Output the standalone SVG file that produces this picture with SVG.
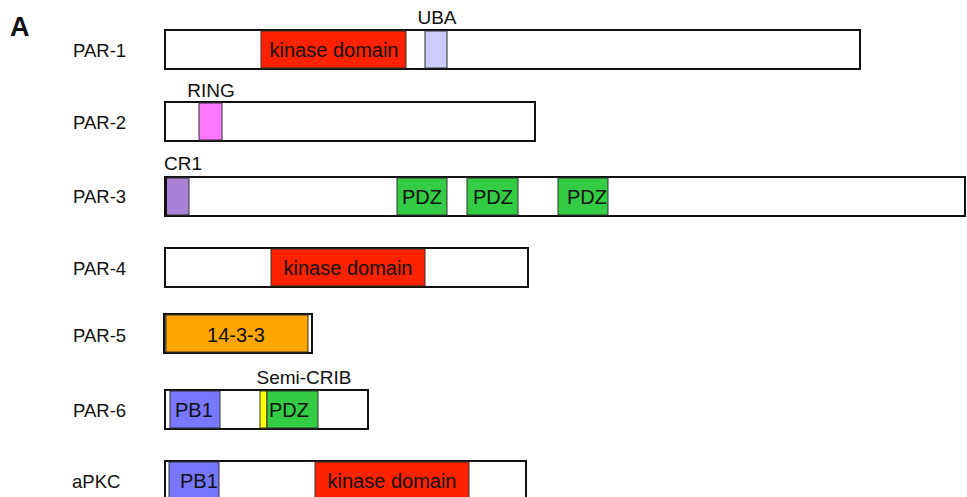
<svg xmlns="http://www.w3.org/2000/svg" width="967" height="497" viewBox="0 0 967 497">
<style>
text{font-family:"Liberation Sans",Arial,sans-serif;font-size:18.5px;fill:#111}
.d{font-size:20px}
.outer{fill:#fff;stroke:#111;stroke-width:2}
.dom{stroke:#333;stroke-width:1}
.kin{fill:#ff2200}
.pdz{fill:#33cc44}
.pb1{fill:#7777ff}
.c{text-anchor:middle}
</style>
<rect width="967" height="497" fill="#fff"/>
<text x="10" y="36" style="font-weight:bold;font-size:27px">A</text>
<g id="par1">
<text x="73" y="57">PAR-1</text>
<rect class="outer" x="165" y="30" width="695" height="39"/>
<rect class="dom kin" x="261" y="31" width="145" height="37"/>
<rect class="dom" fill="#ccccff" x="425" y="31" width="22" height="37"/>
<text class="c d" x="334" y="57">kinase domain</text>
<text class="c" x="437" y="24" style="font-size:19px">UBA</text>
</g>
<g id="par2">
<text x="73" y="129">PAR-2</text>
<rect class="outer" x="165" y="102" width="370" height="39"/>
<rect class="dom" fill="#ff77ff" x="199" y="103" width="23" height="37"/>
<text class="c" x="211" y="97" style="font-size:19px">RING</text>
</g>
<g id="par3">
<text x="73" y="203">PAR-3</text>
<rect class="outer" x="165" y="177" width="800" height="39"/>
<rect class="dom" fill="#aa80d4" x="166" y="178" width="23" height="37"/>
<line x1="165.5" y1="177" x2="165.5" y2="216" stroke="#111" stroke-width="3"/>
<rect class="dom pdz" x="397" y="178" width="50" height="37"/>
<rect class="dom pdz" x="467" y="178" width="51" height="37"/>
<rect class="dom pdz" x="558" y="178" width="50" height="37"/>
<text class="c d" x="422" y="204">PDZ</text>
<text class="c d" x="493" y="204">PDZ</text>
<text class="c d" x="587" y="204">PDZ</text>
<text x="164" y="170" style="font-size:19px">CR1</text>
</g>
<g id="par4">
<text x="73" y="275">PAR-4</text>
<rect class="outer" x="165" y="248" width="363" height="39"/>
<rect class="dom kin" x="271" y="249" width="154" height="37"/>
<text class="c d" x="348" y="275">kinase domain</text>
</g>
<g id="par5">
<text x="73" y="342">PAR-5</text>
<rect class="outer" x="164" y="314" width="148" height="39"/>
<rect class="dom" fill="#ffa500" x="166" y="315" width="142" height="37"/>
<line x1="164.5" y1="314" x2="164.5" y2="353" stroke="#111" stroke-width="2"/>
<text class="c d" x="236" y="342">14-3-3</text>
</g>
<g id="par6">
<text x="73" y="417">PAR-6</text>
<rect class="outer" x="165" y="390" width="203" height="39"/>
<rect class="dom pb1" x="170" y="391" width="50" height="37"/>
<rect class="dom" fill="#ffff00" x="260" y="391" width="7" height="37"/>
<rect class="dom pdz" x="267" y="391" width="51" height="37"/>
<text class="d" x="175" y="417">PB1</text>
<text class="d" x="269" y="417">PDZ</text>
<text class="c" x="304" y="384" style="font-size:19px">Semi-CRIB</text>
</g>
<g id="apkc">
<text x="72" y="488">aPKC</text>
<rect class="outer" x="165" y="461" width="361" height="40"/>
<rect class="dom pb1" x="169" y="462" width="50" height="38"/>
<rect class="dom kin" x="315" y="462" width="154" height="38"/>
<text class="d" x="180" y="488">PB1</text>
<text class="c d" x="392" y="488">kinase domain</text>
</g>
<g id="connectors"></g>
</svg>
